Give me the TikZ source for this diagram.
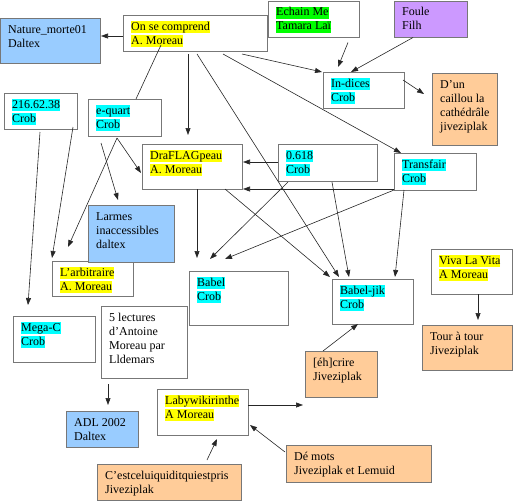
\documentclass[tikz,border=0pt]{standalone}
\usepackage{fontspec}
\setmainfont{Liberation Serif}
\usetikzlibrary{arrows.meta,calc}
\definecolor{bblue}{HTML}{99CCFF}
\definecolor{bpurple}{HTML}{CC99FF}
\definecolor{borange}{HTML}{FFCC99}
\definecolor{hy}{HTML}{FFFF00}
\definecolor{hc}{HTML}{00FFFF}
\definecolor{hg}{HTML}{00FF00}
\definecolor{bordergray}{HTML}{777777}
\newcommand\hlt[2]{{\setlength{\fboxsep}{0pt}\colorbox{#1}{\rule[-3pt]{0pt}{12pt}#2}}}
\newcommand\pln[1]{\rule[-3pt]{0pt}{12pt}#1}
\tikzset{
  box/.style={draw=bordergray, line width=0.9pt, rectangle, inner sep=0pt},
  txt/.style={inner sep=0pt, align=left, font=\fontsize{12}{14}\selectfont},
  link/.style={draw=black!85, line width=0.6pt, -{Triangle[length=7pt,width=5pt]}},
  plainlink/.style={draw=black!85, line width=0.6pt}
}
\newcommand\bx[7]{%
  \node[box,fill=#6,minimum width=#4pt,minimum height=#5pt,anchor=north west] (#1) at (#2,#3) {};
  \node[txt,anchor=north west] (#1t) at ($(#1.north west)+(8,6)$) {#7};
}
\newcommand\rp[3]{($(#1.north west)+(#2,#3)$)}
\begin{document}
\begin{tikzpicture}[x=1pt,y=-1pt]
\useasboundingbox (0,0) rectangle (513,501);
\bx{nature}{0}{18}{100}{45}{bblue}{\pln{Nature\_morte01}\\\pln{Daltex}}
\bx{onse}{123}{15}{144}{36}{white}{\hlt{hy}{On se comprend}\\\hlt{hy}{A. Moreau}}
\bx{echain}{268}{0.5}{91}{36}{white}{\hlt{hg}{Echain Me}\\\hlt{hg}{Tamara Laï}}
\bx{foule}{394}{0.5}{73}{36}{bpurple}{\pln{Foule}\\\pln{Filh}}
\bx{indices}{323}{72}{81}{36}{white}{\hlt{hc}{In-dices}\\\hlt{hc}{Crob}}
\bx{caillou}{432}{73}{65}{72}{borange}{\pln{D’un}\\\pln{caillou la}\\\pln{cathédrâle}\\\pln{jiveziplak}}
\bx{ip}{4}{93}{73}{36}{white}{\hlt{hc}{216.62.38}\\\hlt{hc}{Crob}}
\bx{equart}{88}{99}{73}{37}{white}{\hlt{hc}{e-quart}\\\hlt{hc}{Crob}}
\bx{drafl}{142}{144}{100}{45}{white}{\hlt{hy}{DraFLAGpeau}\\\hlt{hy}{A. Moreau}}
\bx{p618}{278}{144}{99}{37}{white}{\hlt{hc}{0.618}\\\hlt{hc}{Crob}}
\bx{transfair}{394}{153}{82}{37}{white}{\hlt{hc}{Transfair}\\\hlt{hc}{Crob}}
\bx{arbitraire}{52}{261}{81}{35}{white}{\hlt{hy}{L’arbitraire}\\\hlt{hy}{A. Moreau}}
\bx{larmes}{88}{205}{86}{57}{bblue}{\pln{Larmes}\\\pln{inaccessibles}\\\pln{daltex}}
\bx{babel}{189}{271}{99}{54}{white}{\hlt{hc}{Babel}\\\hlt{hc}{Crob}}
\bx{babeljik}{332}{279}{81}{45}{white}{\hlt{hc}{Babel-jik}\\\hlt{hc}{Crob}}
\bx{viva}{431}{249}{81}{45}{white}{\hlt{hy}{Viva La Vita}\\\hlt{hy}{A Moreau}}
\bx{tour}{422}{325}{90}{45}{borange}{\pln{Tour à tour}\\\pln{Jiveziplak}}
\bx{ehcrire}{305}{351}{72}{46}{borange}{\pln{[éh]crire}\\\pln{Jiveziplak}}
\bx{megac}{13}{316}{82}{46}{white}{\hlt{hc}{Mega-C}\\\hlt{hc}{Crob}}
\bx{lectures}{101}{306}{86}{72}{white}{\pln{5 lectures}\\\pln{d’Antoine}\\\pln{Moreau par}\\\pln{Lldemars}}
\bx{adl}{66}{411}{72}{36}{bblue}{\pln{ADL 2002}\\\pln{Daltex}}
\bx{laby}{157}{389}{91}{46}{white}{\hlt{hy}{Labywikirinthe}\\\hlt{hy}{A Moreau}}
\bx{cest}{97}{464}{144}{36}{borange}{\pln{C’estceluiquiditquiestpris}\\\pln{Jiveziplak}}
\bx{demots}{286}{445}{145}{37}{borange}{\pln{Dé mots}\\\pln{Jiveziplak et Lemuid}}
% connectors
\draw[link] \rp{onse}{0}{21} -- \rp{nature}{101}{18};
\draw[plainlink] \rp{onse}{38}{30} -- \rp{equart}{48}{0};
\draw[link] \rp{onse}{65}{39} -- \rp{drafl}{46}{-9};
\draw[link] \rp{onse}{74}{39} -- \rp{babeljik}{7}{-2};
\draw[link] \rp{onse}{119}{39} -- \rp{indices}{-1}{0};
\draw[link] \rp{onse}{100}{39} -- \rp{transfair}{7}{0};
\draw[link] \rp{echain}{80}{42} -- \rp{indices}{15}{-5};
\draw[link] \rp{foule}{19}{37} -- \rp{indices}{28}{0};
\draw[link] \rp{indices}{80}{8} -- \rp{caillou}{-8}{21};
\draw[link] \rp{ip}{36}{39} -- \rp{megac}{15}{-11};
\draw[link] \rp{ip}{69}{34} -- \rp{arbitraire}{0}{-3};
\draw[link] \rp{equart}{13}{44} -- \rp{larmes}{30}{-5};
\draw[link] \rp{equart}{29}{39} -- \rp{arbitraire}{16}{-14};
\draw[link] \rp{equart}{29}{39} -- \rp{drafl}{-1}{29};
\draw[link] \rp{drafl}{55}{45} -- \rp{babel}{8}{-13};
\draw[link] \rp{drafl}{83}{45} -- \rp{babeljik}{-2}{-2};
\draw[link] \rp{p618}{0}{18} -- \rp{drafl}{101}{18};
\draw[link] \rp{transfair}{0}{36} -- \rp{drafl}{101}{45};
\draw[link] \rp{p618}{10}{38} -- \rp{babel}{21}{-12};
\draw[link] \rp{p618}{54}{38} -- \rp{babeljik}{17}{-2};
\draw[link] \rp{transfair}{0}{37} -- \rp{babel}{36}{-12};
\draw[link] \rp{transfair}{10}{37} -- \rp{babeljik}{63}{-2};
\draw[link] \rp{viva}{47}{45} -- \rp{tour}{56}{-5};
\draw[link] \rp{ehcrire}{18}{0} -- \rp{babeljik}{26}{45};
\draw[link] \rp{lectures}{7}{78} -- \rp{adl}{42}{-6};
\draw[link] \rp{laby}{91}{16} -- \rp{ehcrire}{-2}{54};
\draw[link] \rp{demots}{-1}{7} -- \rp{laby}{93}{36};
\draw[link] \rp{cest}{110}{-4} -- \rp{laby}{60}{50};
\end{tikzpicture}
\end{document}
